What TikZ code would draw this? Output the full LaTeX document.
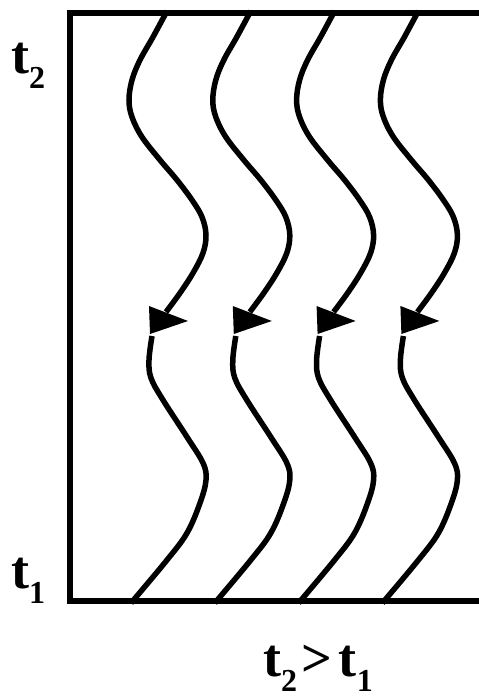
\documentclass[tikz,border=0pt]{standalone}
\usepackage{fontspec}
\setmainfont{Liberation Serif}
\newcommand\tlab[1]{t\raisebox{-15pt}{\fontsize{32}{32}\selectfont #1}}
\tikzset{
  frame/.style={line width=6pt, line join=miter},
  wave/.style={line width=5.5pt},
  head/.style={fill=black},
  lab/.style={anchor=base west, inner sep=0pt, font=\fontsize{54}{54}\selectfont\bfseries}
}
\begin{document}
\begin{tikzpicture}[x=1pt,y=-1pt]
\useasboundingbox (0,0) rectangle (479,697);
\draw[frame] (479,13) -- (70,13) -- (70,601) -- (479,601);
\foreach \i in {0,1,2,3}{
  \begin{scope}[xshift=\i*83.8pt]
    \draw[wave] plot[smooth, tension=0.6] coordinates {(167,11) (153,37) (140,60) (132,80) (129,100) (132,117) (142,137) (160,160) (177,180) (192,200) (202,217) (206,235) (203,253) (193,273) (180,293) (166,312)};
    \draw[wave] plot[smooth, tension=0.6] coordinates {(152,336) (149,360) (151,378) (163,400) (187,437) (203,463) (206,480) (200,503) (187,533) (167,560) (131,603)};
    \fill[head] (149,306) -- (188,321) -- (150,334) -- cycle;
  \end{scope}
}
\node[lab] (t2) at (11,73) {\tlab{2}};
\node[lab] (t1) at (11,588) {\tlab{1}};
\node[lab] (cmp) at (263,676) {\tlab{2}\kern4pt>\kern7pt\tlab{1}};
\end{tikzpicture}
\end{document}
